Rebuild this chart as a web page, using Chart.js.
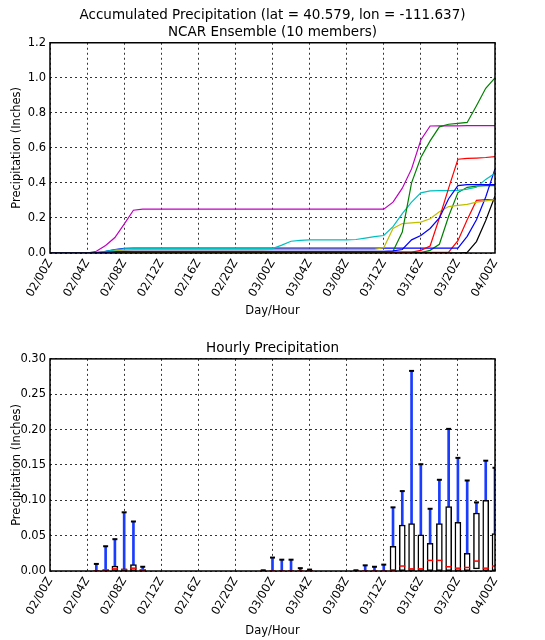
<!DOCTYPE html>
<html>
<head>
<meta charset="utf-8">
<script src="https://cdn.jsdelivr.net/npm/chart.js@4/dist/chart.umd.min.js"></script>
<style>
  body { margin: 0; background: #fff; }
  canvas { display: block; }
</style>
</head>
<body>
<canvas id="accum" width="545" height="320"></canvas>
<canvas id="hourly" width="545" height="320"></canvas>
<script>
const hours = [
  0, 1, 2, 3, 4, 5, 6, 7, 8, 9,
  10, 11, 12, 13, 14, 15, 16, 17, 18, 19,
  20, 21, 22, 23, 24, 25, 26, 27, 28, 29,
  30, 31, 32, 33, 34, 35, 36, 37, 38, 39,
  40, 41, 42, 43, 44, 45, 46, 47, 48,
];
const tickLabels = [
  "02/00Z", "02/04Z", "02/08Z", "02/12Z", "02/16Z", "02/20Z", "03/00Z",
  "03/04Z", "03/08Z", "03/12Z", "03/16Z", "03/20Z", "04/00Z",
];

// accumulated precipitation per member (inches), one value per hour
const blueA = [
  0, 0, 0, 0, 0, 0.001, 0.003, 0.006, 0.009, 0.01,
  0.01, 0.01, 0.01, 0.01, 0.01, 0.01, 0.01, 0.01, 0.01, 0.01,
  0.01, 0.01, 0.01, 0.01, 0.01, 0.01, 0.01, 0.01, 0.01, 0.01,
  0.01, 0.01, 0.01, 0.01, 0.01, 0.01, 0.01, 0.012, 0.02, 0.075,
  0.1, 0.14, 0.2, 0.31, 0.385, 0.39, 0.39, 0.39, 0.39,
];
const greenA = [
  0, 0, 0, 0, 0, 0.001, 0.003, 0.005, 0.006, 0.006,
  0.006, 0.006, 0.006, 0.006, 0.006, 0.006, 0.006, 0.006, 0.006, 0.006,
  0.006, 0.006, 0.006, 0.006, 0.006, 0.006, 0.006, 0.006, 0.006, 0.006,
  0.006, 0.006, 0.006, 0.006, 0.006, 0.006, 0.006, 0.01, 0.12, 0.4,
  0.545, 0.64, 0.72, 0.735, 0.74, 0.745, 0.84, 0.94, 1.0,
];
const redA = [
  0, 0, 0, 0, 0, 0.001, 0.002, 0.004, 0.005, 0.005,
  0.005, 0.005, 0.005, 0.005, 0.005, 0.005, 0.005, 0.005, 0.005, 0.005,
  0.005, 0.005, 0.005, 0.005, 0.005, 0.005, 0.005, 0.005, 0.005, 0.005,
  0.005, 0.005, 0.005, 0.005, 0.005, 0.005, 0.005, 0.005, 0.005, 0.005,
  0.015, 0.04, 0.2, 0.37, 0.535, 0.54, 0.542, 0.545, 0.55,
];
const cyan = [
  0, 0, 0, 0, 0, 0.003, 0.01, 0.018, 0.024, 0.025,
  0.025, 0.025, 0.025, 0.025, 0.025, 0.025, 0.025, 0.025, 0.025, 0.025,
  0.025, 0.025, 0.025, 0.025, 0.025, 0.045, 0.067, 0.072, 0.075, 0.075,
  0.075, 0.075, 0.075, 0.077, 0.085, 0.093, 0.1, 0.15, 0.225, 0.29,
  0.343, 0.355, 0.356, 0.356, 0.357, 0.365, 0.375, 0.42, 0.455,
];
const magenta = [
  0, 0, 0, 0, 0, 0.01, 0.043, 0.088, 0.165, 0.244,
  0.25, 0.25, 0.25, 0.25, 0.25, 0.25, 0.25, 0.25, 0.25, 0.25,
  0.25, 0.25, 0.25, 0.25, 0.25, 0.25, 0.25, 0.25, 0.25, 0.25,
  0.25, 0.25, 0.25, 0.25, 0.25, 0.25, 0.25, 0.29, 0.37, 0.48,
  0.645, 0.725, 0.726, 0.726, 0.726, 0.727, 0.727, 0.727, 0.727,
];
const yellow = [
  0, 0, 0, 0, 0, 0.002, 0.006, 0.012, 0.017, 0.019,
  0.019, 0.019, 0.019, 0.019, 0.019, 0.019, 0.019, 0.019, 0.019, 0.019,
  0.019, 0.019, 0.019, 0.019, 0.021, 0.021, 0.021, 0.021, 0.021, 0.021,
  0.021, 0.021, 0.021, 0.021, 0.021, 0.021, 0.03, 0.14, 0.168, 0.172,
  0.176, 0.195, 0.235, 0.265, 0.272, 0.278, 0.29, 0.297, 0.305,
];
const black = [
  0, 0, 0, 0, 0, 0, 0, 0, 0, 0,
  0, 0, 0, 0, 0, 0, 0, 0, 0, 0,
  0, 0, 0, 0, 0, 0, 0, 0, 0, 0,
  0, 0, 0, 0, 0, 0, 0, 0, 0, 0,
  0, 0, 0, 0, 0, 0.004, 0.065, 0.185, 0.325,
];
const blueB = [
  0, 0, 0, 0, 0, 0.003, 0.01, 0.02, 0.027, 0.028,
  0.028, 0.028, 0.028, 0.028, 0.028, 0.028, 0.028, 0.028, 0.028, 0.028,
  0.028, 0.028, 0.028, 0.028, 0.028, 0.028, 0.028, 0.028, 0.028, 0.028,
  0.028, 0.028, 0.028, 0.028, 0.028, 0.028, 0.028, 0.028, 0.028, 0.028,
  0.028, 0.028, 0.028, 0.028, 0.028, 0.095, 0.19, 0.32, 0.48,
];
const greenB = [
  0, 0, 0, 0, 0, 0.001, 0.002, 0.003, 0.003, 0.003,
  0.003, 0.003, 0.003, 0.003, 0.003, 0.003, 0.003, 0.003, 0.003, 0.003,
  0.003, 0.003, 0.003, 0.003, 0.003, 0.003, 0.003, 0.003, 0.003, 0.003,
  0.003, 0.003, 0.003, 0.003, 0.003, 0.003, 0.003, 0.003, 0.003, 0.003,
  0.003, 0.015, 0.05, 0.21, 0.345, 0.375, 0.382, 0.385, 0.385,
];
const redB = [
  0, 0, 0, 0, 0, 0.001, 0.002, 0.003, 0.003, 0.003,
  0.003, 0.003, 0.003, 0.003, 0.003, 0.003, 0.003, 0.003, 0.003, 0.003,
  0.003, 0.003, 0.003, 0.003, 0.003, 0.003, 0.003, 0.003, 0.003, 0.003,
  0.003, 0.003, 0.003, 0.003, 0.003, 0.003, 0.003, 0.003, 0.003, 0.003,
  0.003, 0.003, 0.003, 0.005, 0.07, 0.19, 0.3, 0.305, 0.305,
];

// hourly precipitation box plot stats (inches)
const boxHours = [5, 6, 7, 8, 9, 10, 23, 24, 25, 26, 27, 28, 33, 34, 35, 36,
  37, 38, 39, 40, 41, 42, 43, 44, 45, 46, 47, 48];
const whiskerMax = [0.01, 0.035, 0.045, 0.083, 0.07, 0.006,
  0.001, 0.019, 0.016, 0.016, 0.004, 0.002, 0.001, 0.008, 0.006, 0.009,
  0.09, 0.113, 0.283, 0.151, 0.088, 0.129, 0.201, 0.16, 0.128, 0.097, 0.156, 0.146];
const boxQ3 = [0, 0.002, 0.007, 0.003, 0.009, 0.002,
  0, 0, 0, 0, 0, 0.001, 0, 0, 0, 0,
  0.035, 0.065, 0.067, 0.051, 0.039, 0.067, 0.091, 0.069, 0.025, 0.082, 0.1, 0.053];
const boxQ1 = [0, 0, 0, 0, 0, 0,
  0, 0, 0, 0, 0, 0, 0, 0, 0, 0,
  0, 0, 0, 0, 0, 0, 0, 0, 0, 0.003, 0, 0];
const medians = [0, 0.001, 0.003, 0.002, 0.004, 0.001,
  0, 0, 0, 0, 0, 0, 0, 0, 0, 0,
  0.001, 0.007, 0.003, 0.003, 0.015, 0.015, 0.006, 0.004, 0.005, 0.014, 0.004, 0.007];

Chart.defaults.font.family = "'DejaVu Sans', sans-serif";
Chart.defaults.color = "#000";
Chart.defaults.animation = false;

const frame = {
  id: "frame",
  afterDraw(chart) {
    const { ctx, chartArea: a } = chart;
    ctx.save();
    ctx.strokeStyle = "#000";
    ctx.lineWidth = 1.5;
    ctx.strokeRect(a.left, a.top, a.right - a.left, a.bottom - a.top);
    ctx.restore();
  },
};

function xAxis(height) {
  return {
    type: "linear",
    min: 0,
    max: 48,
    offset: false,
    afterFit: (s) => { s.height = height; },
    ticks: {
      stepSize: 4,
      autoSkip: false,
      minRotation: 60,
      maxRotation: 60,
      padding: 4,
      font: { size: 11.5 },
      callback: (v) => tickLabels[v / 4],
    },
    grid: { color: "#000", lineWidth: 0.8, drawTicks: false, offset: false },
    border: { display: false, dash: [2, 3] },
    title: { display: true, text: "Day/Hour", font: { size: 11.5 }, padding: { top: 0, bottom: 2 } },
  };
}

function yAxis(max, step, digits) {
  return {
    min: 0,
    max: max,
    afterFit: (s) => { s.width = 50; },
    ticks: {
      stepSize: step,
      padding: 4,
      font: { size: 11.5 },
      callback: (v) => v.toFixed(digits),
    },
    grid: { color: "#000", lineWidth: 0.8, drawTicks: false },
    border: { display: false, dash: [2, 3] },
    title: { display: true, text: "Precipitation (Inches)", font: { size: 11.5 }, padding: { top: 10, bottom: 0 } },
  };
}

const members = [
  [blueA, "#0000ff"], [greenA, "#008000"], [redA, "#ff0000"], [cyan, "#00bfbf"],
  [magenta, "#bf00bf"], [yellow, "#bfbf00"], [black, "#000000"],
  [blueB, "#0000ff"], [greenB, "#008000"], [redB, "#ff0000"],
];

new Chart(document.getElementById("accum"), {
  type: "line",
  data: {
    datasets: members.map(([vals, color]) => ({
      data: vals.map((v, i) => ({ x: hours[i], y: v })),
      borderColor: color,
      borderWidth: 1.2,
      pointRadius: 0,
      tension: 0,
    })),
  },
  options: {
    responsive: false,
    layout: { padding: { left: 0, right: 50, top: 0, bottom: 0 } },
    plugins: {
      legend: { display: false },
      tooltip: { enabled: false },
      title: {
        display: true,
        fullSize: false,
        text: ["Accumulated Precipitation (lat = 40.579, lon = -111.637)", "NCAR Ensemble (10 members)"],
        font: { size: 13.5, weight: "normal", lineHeight: 1.25 },
        padding: { top: 7, bottom: 2 },
      },
    },
    scales: { x: xAxis(67), y: yAxis(1.2, 0.2, 1) },
  },
  plugins: [frame],
});

new Chart(document.getElementById("hourly"), {
  type: "bar",
  data: {
    datasets: [
      {
        type: "bar",
        order: 4,
        grouped: false,
        clip: 0,
        data: boxHours.map((h, i) => ({ x: h, y: [boxQ3[i], whiskerMax[i]] })),
        backgroundColor: "#1a3cff",
        barThickness: 2,
      },
      {
        type: "bar",
        order: 3,
        grouped: false,
        clip: 0,
        data: boxHours.map((h, i) => ({ x: h, y: [boxQ1[i], boxQ3[i]] })),
        backgroundColor: "#fff",
        borderColor: "#000",
        borderWidth: 1.5,
        borderSkipped: false,
        barThickness: 6,
      },
      {
        type: "scatter",
        order: 2,
        data: boxHours.map((h, i) => ({ x: h, y: medians[i] })),
        pointStyle: "line",
        pointRadius: 3,
        borderColor: "#ff0000",
        borderWidth: 1.5,
      },
      {
        type: "scatter",
        order: 1,
        data: boxHours.map((h, i) => ({ x: h, y: whiskerMax[i] })),
        pointStyle: "line",
        pointRadius: 2.5,
        borderColor: "#000",
        borderWidth: 2,
      },
    ],
  },
  options: {
    responsive: false,
    layout: { padding: { left: 0, right: 50, top: 0, bottom: 0 } },
    plugins: {
      legend: { display: false },
      tooltip: { enabled: false },
      title: {
        display: true,
        fullSize: false,
        text: "Hourly Precipitation",
        font: { size: 13.5, weight: "normal", lineHeight: 1.25 },
        padding: { top: 20, bottom: 2 },
      },
    },
    scales: { x: xAxis(69), y: yAxis(0.3, 0.05, 2) },
  },
  plugins: [frame],
});
</script>
</body>
</html>
